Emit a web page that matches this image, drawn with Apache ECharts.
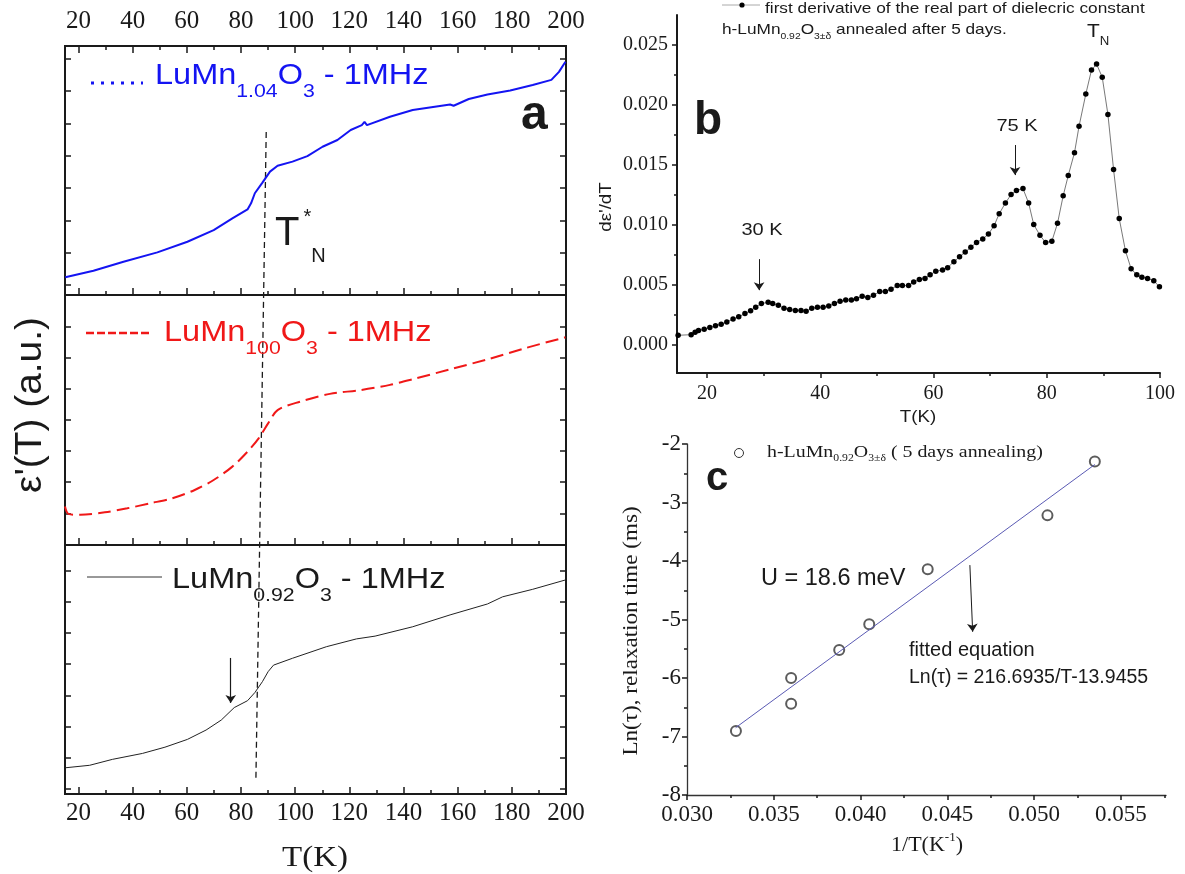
<!DOCTYPE html>
<html>
<head>
<meta charset="utf-8">
<script src="https://cdn.jsdelivr.net/npm/echarts@6/dist/echarts.min.js"></script>
<style>
  html, body { margin: 0; padding: 0; background: #fff; }
  #main { width: 1185px; height: 874px; }
</style>
</head>
<body>
<div id="main"></div>
<script>
// ---- panel a: eps'(T) of three samples, arbitrary units per panel ----
const tBlue = [15.1, 25.5, 36.6, 49.1, 60.2, 69.9, 76.8, 82.4, 83.7, 85.1, 87.9, 90.7, 93.5, 99.0, 104.5, 110.1, 115.6, 120.5, 124.6, 125.6, 126.5, 135.0, 143.4, 157.2, 158.5, 164.1, 171.0, 179.4, 187.7, 194.6, 197.4, 199.8];
const vBlue = [0.24, 0.44, 0.72, 1.01, 1.34, 1.70, 2.06, 2.34, 2.53, 2.84, 3.17, 3.51, 3.69, 3.82, 3.99, 4.28, 4.49, 4.80, 4.95, 5.05, 4.95, 5.21, 5.42, 5.59, 5.55, 5.76, 5.90, 6.02, 6.19, 6.35, 6.60, 6.91];

const tRed = [15.0, 16.3, 20.7, 29.7, 38.0, 46.3, 54.6, 62.9, 69.9, 76.8, 82.4, 86.5, 90.0, 93.5, 101.8, 112.8, 123.9, 135.0, 143.4, 157.2, 171.0, 184.9, 199.8];
const vRed = [0.22, -0.02, -0.05, 0.03, 0.16, 0.32, 0.48, 0.75, 1.07, 1.50, 1.98, 2.41, 2.89, 3.32, 3.59, 3.84, 3.96, 4.13, 4.31, 4.63, 4.95, 5.31, 5.66];

const tBlack = [15.1, 24.1, 32.5, 43.6, 51.9, 60.2, 67.1, 72.7, 77.5, 82.4, 85.1, 87.9, 90.0, 92.0, 99.0, 111.5, 122.6, 129.5, 143.4, 157.2, 171.0, 176.6, 187.7, 199.8];
const vBlack = [0.68, 0.76, 0.95, 1.14, 1.34, 1.59, 1.89, 2.21, 2.61, 2.83, 3.09, 3.44, 3.76, 3.97, 4.19, 4.56, 4.81, 4.90, 5.20, 5.58, 5.93, 6.16, 6.40, 6.70];

const aMajor = [20, 40, 60, 80, 100, 120, 140, 160, 180, 200];
const aMinor = [30, 50, 70, 90, 110, 130, 150, 170, 190];
const aRanges = [[-0.31, 7.40], [-1.02, 7.02], [-0.16, 7.82]];
const aYTicks = [[0, 1, 2, 3, 4, 5, 6, 7], [0, 1, 2, 3, 4, 5, 6], [0, 1, 2, 3, 4, 5, 6, 7]];

// ---- panel b: first derivative ----
const tDeriv = [14.9, 17.2, 17.9, 18.5, 19.5, 20.5, 21.5, 22.5, 23.5, 24.6, 25.6, 26.7, 27.7, 28.6, 29.6, 30.8, 31.6, 32.6, 33.6, 34.6, 35.6, 36.6, 37.5, 38.5, 39.5, 40.5, 41.5, 42.5, 43.5, 44.5, 45.5, 46.4, 47.4, 48.4, 49.4, 50.5, 51.5, 52.5, 53.6, 54.5, 55.6, 56.5, 57.5, 58.5, 59.4, 60.4, 61.6, 62.5, 63.6, 64.6, 65.6, 66.6, 67.6, 68.7, 69.7, 70.7, 71.6, 72.7, 73.7, 74.65, 75.8, 76.8, 77.7, 78.8, 79.8, 80.9, 81.9, 82.9, 83.8, 84.9, 85.7, 86.9, 87.9, 88.8, 89.8, 90.8, 91.8, 92.8, 93.9, 94.9, 95.9, 96.8, 97.8, 98.9, 99.9];
const dDeriv = [0.00075, 0.0008, 0.0010, 0.00114, 0.00125, 0.0014, 0.00155, 0.00167, 0.00186, 0.0021, 0.0023, 0.00256, 0.0028, 0.0031, 0.0034, 0.0035, 0.0034, 0.00325, 0.0030, 0.0029, 0.00283, 0.00283, 0.00275, 0.0030, 0.0031, 0.0031, 0.0032, 0.0034, 0.0036, 0.0037, 0.0037, 0.0038, 0.0040, 0.0039, 0.0041, 0.0044, 0.0044, 0.0046, 0.0049, 0.0049, 0.0049, 0.0052, 0.0054, 0.0055, 0.0058, 0.0061, 0.0062, 0.0064, 0.0069, 0.0073, 0.0077, 0.0081, 0.0085, 0.0088, 0.0092, 0.0099, 0.0109, 0.0118, 0.0125, 0.01285, 0.0130, 0.0118, 0.0100, 0.0091, 0.0085, 0.0086, 0.0101, 0.0124, 0.0141, 0.0160, 0.0182, 0.0209, 0.0229, 0.0234, 0.0223, 0.0192, 0.0146, 0.0105, 0.0078, 0.0063, 0.0058, 0.0056, 0.0055, 0.0053, 0.0048];
const bMajorX = [20, 40, 60, 80, 100];
const bMinorX = [30, 50, 70, 90];
const bMajorY = [0, 0.005, 0.01, 0.015, 0.02, 0.025];
const bMinorY = [0.0025, 0.0075, 0.0125, 0.0175, 0.0225];

// ---- panel c: relaxation time vs 1/T ----
const invT = [0.03282, 0.0360, 0.0360, 0.03877, 0.0405, 0.04387, 0.05077, 0.0535];
const lnTau = [-6.905, -6.0, -6.44, -5.52, -5.08, -4.14, -3.22, -2.30];
const fitX = [0.0328, 0.0535];
const fitY = [-6.85, -2.35];
const cMajorX = [0.030, 0.035, 0.040, 0.045, 0.050, 0.055];
const cMinorX = [0.0325, 0.0375, 0.0425, 0.0475, 0.0525, 0.0575];
const cMajorY = [-8, -7, -6, -5, -4, -3, -2];
const cMinorY = [-7.5, -6.5, -5.5, -4.5, -3.5, -2.5];

const SERIF = '"Liberation Serif", "Times New Roman", serif';
const SANS = '"Liberation Sans", Arial, sans-serif';
const INK = '#1a1a1a';
const BLUE = '#1414f2';
const RED = '#f01818';

const zip = (a, b) => a.map((v, i) => [v, b[i]]);

const xAxis = [], yAxis = [];
function add(list, cfg) { list.push(cfg); return list.length - 1; }

function ticks(grid, pos, min, max, vals, len, inside, extra) {
  return Object.assign({
    type: 'value', gridIndex: grid, position: pos, min: min, max: max,
    axisLine: { show: false, onZero: false },
    splitLine: { show: false },
    axisLabel: { show: false },
    axisTick: { show: true, inside: inside, length: len, customValues: vals, lineStyle: { color: INK, width: 1.5 } }
  }, extra || {});
}
function labels(vals, size, margin, fmt) {
  const l = { show: true, customValues: vals, fontFamily: SERIF, fontSize: size, color: INK, margin: margin };
  if (fmt) l.formatter = fmt;
  return l;
}
const line2 = { show: true, onZero: false, lineStyle: { color: INK, width: 2 } };

// panel a: three stacked frames sharing T
const aX = [], aY = [];
for (let g = 0; g < 3; g++) {
  aX[g] = add(xAxis, ticks(g, 'bottom', 15, 200, aMajor, 7, true, g === 2 ? { axisLabel: labels(aMajor, 25, 7) } : null));
  add(xAxis, ticks(g, 'bottom', 15, 200, aMinor, 4, true));
  aY[g] = add(yAxis, ticks(g, 'left', aRanges[g][0], aRanges[g][1], aYTicks[g], 6, true));
  add(yAxis, ticks(g, 'right', aRanges[g][0], aRanges[g][1], aYTicks[g], 6, true));
}
add(xAxis, ticks(0, 'top', 15, 200, aMajor, 7, true, { axisLabel: labels(aMajor, 25, 12) }));
add(xAxis, ticks(0, 'top', 15, 200, aMinor, 4, true));

// panel b
const bX = add(xAxis, ticks(3, 'bottom', 14.7, 100, bMajorX, 5, false, { axisLine: line2, axisLabel: labels(bMajorX, 20, 11) }));
add(xAxis, ticks(3, 'bottom', 14.7, 100, bMinorX, 3, false));
const bY = add(yAxis, ticks(3, 'left', -0.0024, 0.0275, bMajorY, 5, false, { axisLine: line2, axisLabel: labels(bMajorY, 20, 9, v => v.toFixed(3)) }));
add(yAxis, ticks(3, 'left', -0.0024, 0.0275, bMinorY, 3, false));

// panel c
const cAxisLine = { show: true, onZero: false, lineStyle: { color: '#333', width: 1.3 } };
const cX = add(xAxis, ticks(4, 'bottom', 0.030, 0.0576, cMajorX, 5, false, { axisLine: cAxisLine, axisLabel: labels(cMajorX, 23, 8, v => v.toFixed(3)) }));
add(xAxis, ticks(4, 'bottom', 0.030, 0.0576, cMinorX, 3, false));
const cY = add(yAxis, ticks(4, 'left', -8, -2, cMajorY, 5, false, { axisLine: cAxisLine, axisLabel: labels(cMajorY, 23, 6) }));
add(yAxis, ticks(4, 'left', -8, -2, cMinorY, 3, false));

const frame = { show: true, borderColor: INK, borderWidth: 2, backgroundColor: 'transparent' };
const arrow = (pairs, w) => ({
  silent: true, animation: false, symbol: ['none', 'arrow'], symbolSize: 8,
  label: { show: false }, lineStyle: { color: INK, width: w || 1, type: 'solid' },
  emphasis: { disabled: true },
  data: pairs.map(p => [{ coord: p[0] }, { coord: p[1] }])
});

const option = {
  animation: false,
  backgroundColor: '#fff',
  grid: [
    Object.assign({ left: 65, top: 46, width: 501, height: 249 }, frame),
    Object.assign({ left: 65, top: 295, width: 501, height: 250 }, frame),
    Object.assign({ left: 65, top: 545, width: 501, height: 249 }, frame),
    { left: 677, top: 15, width: 483, height: 358 },
    { left: 687, top: 444, width: 479, height: 351 }
  ],
  xAxis: xAxis,
  yAxis: yAxis,
  series: [
    { type: 'line', xAxisIndex: aX[0], yAxisIndex: aY[0], data: zip(tBlue, vBlue), showSymbol: false, silent: true,
      lineStyle: { color: BLUE, width: 2 } },
    { type: 'line', xAxisIndex: aX[1], yAxisIndex: aY[1], data: zip(tRed, vRed), showSymbol: false, silent: true, smooth: 0.3,
      lineStyle: { color: RED, width: 2, type: [13, 6] } },
    { type: 'line', xAxisIndex: aX[2], yAxisIndex: aY[2], data: zip(tBlack, vBlack), showSymbol: false, silent: true,
      lineStyle: { color: '#222', width: 1 },
      markLine: arrow([[[76.2, 4.2], [76.2, 2.76]]], 1.2) },
    { type: 'line', xAxisIndex: bX, yAxisIndex: bY, data: zip(tDeriv, dDeriv), symbol: 'circle', symbolSize: 5.5, silent: true,
      itemStyle: { color: '#000' }, lineStyle: { color: '#555', width: 0.8 },
      markLine: arrow([[[74.4, 0.01664], [74.4, 0.01413]], [[29.2, 0.00711], [29.2, 0.00452]]]) },
    { type: 'line', xAxisIndex: cX, yAxisIndex: cY, data: zip(fitX, fitY), showSymbol: false, silent: true,
      lineStyle: { color: '#5a5ab4', width: 1 },
      markLine: arrow([[[0.0463, -4.07], [0.04646, -5.21]]]) },
    { type: 'scatter', xAxisIndex: cX, yAxisIndex: cY, data: zip(invT, lnTau), symbol: 'emptyCircle', symbolSize: 10, silent: true,
      itemStyle: { color: '#333', borderWidth: 1 } }
  ]
};

const chart = echarts.init(document.getElementById('main'));
chart.setOption(option);

// ---- annotations ----
function txt(x, y, text, size, family, opts, el) {
  return Object.assign({
    type: 'text', x: x, y: y, silent: true,
    style: Object.assign({ text: text, fontSize: size, fontFamily: family, fill: INK, textAlign: 'left', textVerticalAlign: 'middle' }, opts || {})
  }, el || {});
}
// rich text with sub/superscripts: parts = [[text, kind]], kind n|s|u
function chem(x, y, parts, size, subSize, shift, color, family, extra, el) {
  const fam = family || SANS;
  const rich = {
    n: { fontSize: size, fontFamily: fam, fill: color },
    s: { fontSize: subSize, fontFamily: fam, fill: color, padding: [shift * 2, 0, 0, 0] },
    u: { fontSize: subSize, fontFamily: fam, fill: color, padding: [0, 0, shift * 2, 0] }
  };
  const text = parts.map(p => '{' + p[1] + '|' + p[0] + '}').join('');
  return txt(x, y, text, size, fam, Object.assign({ rich: rich, fill: color }, extra || {}), el);
}
const hline = (x1, x2, y, stroke, w, dash) => ({
  type: 'line', silent: true, shape: { x1: x1, y1: y, x2: x2, y2: y },
  style: { stroke: stroke, lineWidth: w, lineDash: dash || null }
});
const wide = s => ({ scaleX: s });
const up = s => ({ rotation: Math.PI / 2, scaleX: s });

// dashed guide through the three frames of panel a
const p1 = chart.convertToPixel({ xAxisIndex: aX[0], yAxisIndex: aY[0] }, [89.3, 4.74]);
const p2 = chart.convertToPixel({ xAxisIndex: aX[2], yAxisIndex: aY[2] }, [85.5, 0.35]);

const legendA = [['LuMn', 'n'], ['', 's'], ['O', 'n'], ['3', 's'], [' - 1MHz', 'n']];
const withSub = sub => legendA.map((p, i) => i === 1 ? [sub, 's'] : p);

const graphic = [
  { type: 'line', silent: true, shape: { x1: p1[0], y1: p1[1], x2: p2[0], y2: p2[1] },
    style: { stroke: INK, lineWidth: 1.3, lineDash: [6, 4] } },

  // panel a
  txt(31, 405, "ε'(T) (a.u.)", 37, SANS, { textAlign: 'center' }, up(1.05)),
  txt(315, 858, 'T(K)', 30, SERIF, { textAlign: 'center' }, wide(1.1)),
  txt(521, 116, 'a', 48, SANS, { fontWeight: 'bold' }),
  hline(91, 143, 83, BLUE, 3, [3, 7]),
  chem(155, 76, withSub('1.04'), 29, 19, 16, BLUE, SANS, null, wide(1.12)),
  hline(86, 151, 333, RED, 2.5, [8, 3]),
  chem(164, 333, withSub('100'), 29, 19, 16, RED, SANS, null, wide(1.12)),
  hline(87, 162, 577, '#333', 1),
  chem(172, 580, withSub('0.92'), 29, 19, 16, INK, SANS, null, wide(1.12)),
  chem(275, 234, [['T', 'n'], ['*', 'u'], ['N', 's']], 40, 20, 0, INK, SANS, {
    rich: {
      n: { fontSize: 40, fontFamily: SANS, fill: INK },
      u: { fontSize: 20, fontFamily: SANS, fill: INK, padding: [0, 0, 34, 4] },
      s: { fontSize: 20, fontFamily: SANS, fill: INK, padding: [45, 0, 0, 0] }
    }
  }),

  // panel b
  hline(722, 760, 5, '#aaa', 1),
  { type: 'circle', silent: true, shape: { cx: 742, cy: 5, r: 2.6 }, style: { fill: '#000' } },
  txt(765, 9, 'first derivative of the real part of dielecric constant', 15, SANS, null, wide(1.15)),
  chem(722, 30, [['h-LuMn', 'n'], ['0.92', 's'], ['O', 'n'], ['3±δ', 's'], [' annealed after 5 days.', 'n']], 15, 9, 7, INK, SANS, null, wide(1.15)),
  txt(694, 121, 'b', 46, SANS, { fontWeight: 'bold' }),
  chem(1087, 32, [['T', 'n'], ['N', 's']], 19, 12, 10, INK, SANS, null, wide(1.1)),
  txt(1017, 127, '75 K', 16, SANS, { textAlign: 'center' }, wide(1.25)),
  txt(762, 231, '30 K', 16, SANS, { textAlign: 'center' }, wide(1.25)),
  txt(606, 207, "dε'/dT", 17, SANS, { textAlign: 'center' }, up(1.1)),
  txt(918, 417, 'T(K)', 17, SANS, { textAlign: 'center' }, wide(1.1)),

  // panel c
  { type: 'circle', silent: true, shape: { cx: 739, cy: 453, r: 4.5 }, style: { fill: '#fff', stroke: '#333', lineWidth: 1 } },
  chem(767, 453, [['h-LuMn', 'n'], ['0.92', 's'], ['O', 'n'], ['3±δ', 's'], [' ( 5 days annealing)', 'n']], 17, 10, 5, INK, SERIF, null, wide(1.17)),
  txt(706, 479, 'c', 40, SANS, { fontWeight: 'bold' }),
  txt(761, 579, 'U = 18.6 meV', 23.5, SANS),
  txt(909, 650, 'fitted equation', 20, SANS),
  txt(909, 678, 'Ln(τ) = 216.6935/T-13.9455', 19.5, SANS),
  txt(631, 631, 'Ln(τ), relaxation time (ms)', 22, SERIF, { textAlign: 'center' }, up(1.05)),
  chem(927, 845, [['1/T(K', 'n'], ['-1', 'u'], [')', 'n']], 22, 13, 7, INK, SERIF, { textAlign: 'center' })
];

chart.setOption({ graphic: graphic });
</script>
</body>
</html>
